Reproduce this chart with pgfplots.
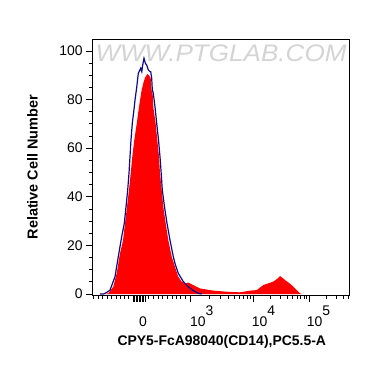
\documentclass[border=0pt]{standalone}
\usepackage{pgfplots}
\pgfplotsset{compat=1.18}
\usepackage{graphicx}
\usepackage{fontspec}
\setmainfont{Liberation Sans}
\definecolor{histblue}{RGB}{10,10,140}
\definecolor{wmgray}{RGB}{212,212,212}
\newcommand{\tenp}[1]{\mbox{10\raisebox{11bp}{#1}}}
\begin{document}
\begin{tikzpicture}
\useasboundingbox (-92.7bp,-72bp) rectangle (277.3bp,295bp);
\begin{axis}[
  scale only axis,
  width=256.6bp, height=255.7bp,
  at={(0,0)}, anchor=south west,
  xmin=92.7, xmax=349.3,
  ymin=-0.4, ymax=104.8,
  axis line style={black, line width=0.9bp},
  tick style={black, line width=0.8bp},
  major tick length=6.5bp, minor tick length=3.5bp,
  tick align=outside,
  xtick pos=bottom, ytick pos=left,
  xtick={133,134.5,136,137.5,139,140.5,142,143.5,145,190,253,309},
  xticklabels={},
  minor xtick={93.3,98.3,102.7,107.3,111.3,116,120,124.3,128.5,148.3,153.3,158.3,162.7,167.3,172,176,180.7,185,209,220,228,234,239,243,247,250,270,280,287,292,297,300,304,306,326,336,343,348},
  extra x ticks={143,201.7,263.4,318.4},
  extra x tick labels={0,\tenp{3},\tenp{4},\tenp{5}},
  extra x tick style={major tick length=0pt, xticklabel style={anchor=base, yshift=-31bp}},
  ytick={0,20,40,60,80,100},
  minor y tick num=3,
  ticklabel style={font=\fontsize{14}{14}\selectfont},
  /pgf/number format/assume math mode=true,
  xlabel={CPY5-FcA98040(CD14),PC5.5-A},
  ylabel={Relative Cell Number},
  xlabel style={font=\bfseries\fontsize{14}{14}\selectfont, at={(axis description cs:0.503,-0.1826)}, anchor=center},
  ylabel style={font=\bfseries\fontsize{14.5}{14.5}\selectfont, at={(axis description cs:-0.2346,0.5)}, anchor=center},
  clip=true,
]
\node[text=wmgray, font=\itshape\fontsize{24}{24}\selectfont] at (axis description cs:0.5,0.946) {\scalebox{1.09}[1]{WWW.PTGLAB.COM}};
\addplot[fill=red, draw=none] coordinates {
(104,0) (108.3,0.3) (113.3,3) (116.7,8.5) (120,16.7) (123,22) (125,29)
(127,35.9) (129,42.8) (130.7,49.7) (132.3,56.5) (134.3,63.4) (136.7,70)
(139,77) (141.7,84) (143.3,86.7) (145,89) (147.3,90.5) (149,90) (150.7,88.8)
(151.5,84) (152.7,82) (153.3,77) (155.7,70) (157.3,63.4) (159,56.5) (160,49.7)
(161.7,42.8) (163.3,35.9) (165.7,29.1) (168.3,22.2) (171.7,15.4) (175,11.2)
(178.3,7.1) (181.7,5.1) (185,4.4) (188.3,4.7) (193.3,3.7) (200,2.3)
(213.3,1.4) (226.7,0.95) (240,0.7) (250,1.4) (256.7,1.6) (263.3,3.7)
(273.3,5.1) (278,6.5) (280,7.4) (282,6.8) (285,5.8) (291.7,3.7) (296.7,1.6)
(300,0.3) (301.7,0)
} \closedcycle;
\addplot[histblue, line width=1.2bp] coordinates {
(100,0) (103.3,0) (106,0.5) (110,1.6) (115,7.1) (118.3,15.4) (121.7,23.6)
(124.3,29.1) (126,35.9) (127.7,42.8) (129,49.7) (130,56.5) (131,63.4)
(132.3,70.2) (134.3,77) (135,79.8) (136.7,85) (138.3,90.8) (140.7,92.9)
(141.8,91.5) (142.6,94) (144,97) (145.3,95) (146.7,94.2) (148.3,92.2)
(150,91.5) (150.7,91.5) (151.7,88.8) (152.3,84) (153.3,82.6) (155,77)
(156.7,70.2) (158.5,63.4) (160,56.5) (161.2,49.7) (162.3,42.8) (164.5,35.9)
(167,29.1) (170,22.2) (173.3,15.4) (175,12.6) (178.3,8.5) (183.3,5.1)
(188.3,3) (193.3,1.4) (198.3,0.3) (201.7,0)
};
\end{axis}
\end{tikzpicture}
\end{document}
